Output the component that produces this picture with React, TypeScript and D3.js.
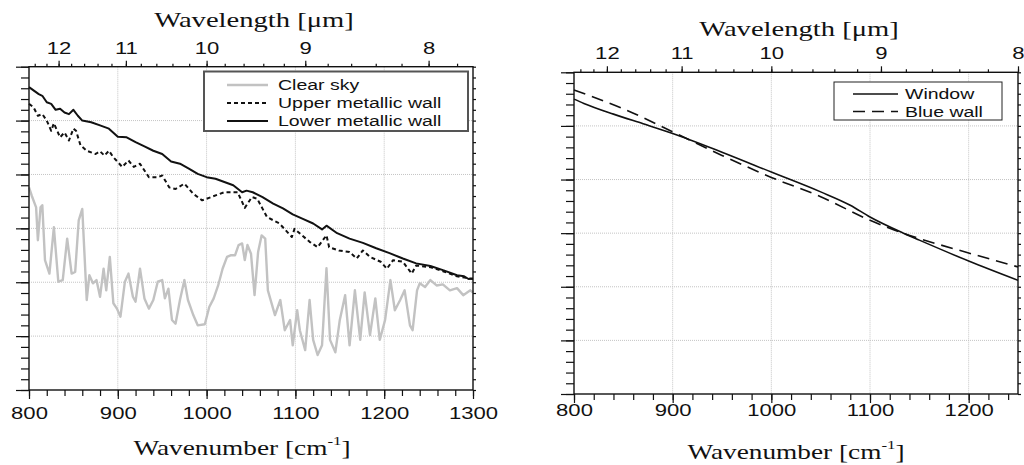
import * as d3 from 'd3';
import React, { useEffect, useRef } from 'react';

const width = 1024;
const height = 465;
const stretch = 1.3; // the original's text is drawn wider than normal
const sans = 'Liberation Sans';
const serif = 'Liberation Serif';

// wavenumber [cm-1], signal (arbitrary units, axis has no labels)
const clearSky = [
  [800, 37.6], [803, 36.1], [808, 33.9], [810, 27.8], [813, 33.9], [815, 34.3], [818, 24.1],
  [823, 21.6], [828, 30.2], [833, 20.1], [838, 20.4], [843, 28.1], [848, 21.6], [852, 21.9],
  [856, 31.5], [860, 33.6], [865, 16.7], [868, 21.3], [872, 19.8], [876, 20.4], [880, 17.3],
  [884, 22.5], [887, 18.5], [891, 24.7], [895, 16.1], [899, 15.1], [903, 13.6], [908, 20.1],
  [912, 21.6], [917, 17.3], [920, 16.4], [925, 22.5], [930, 17.0], [935, 15.1], [940, 16.7],
  [945, 20.1], [950, 20.4], [953, 17.0], [957, 18.8], [961, 13.0], [965, 12.3], [970, 16.7],
  [975, 20.4], [979, 16.7], [985, 13.9], [990, 12.0], [998, 12.2], [1003, 15.4], [1008, 17.0],
  [1013, 19.4], [1018, 22.5], [1023, 24.7], [1027, 25.0], [1032, 25.0], [1036, 26.9],
  [1040, 27.2], [1043, 24.1], [1046, 26.9], [1050, 25.3], [1054, 17.6], [1058, 25.6],
  [1062, 28.7], [1066, 28.1], [1069, 18.5], [1077, 13.9], [1083, 16.7], [1088, 11.1],
  [1094, 13.0], [1097, 8.3], [1102, 14.8], [1105, 11.1], [1111, 7.4], [1116, 16.7],
  [1120, 9.3], [1125, 6.5], [1130, 8.3], [1135, 22.6], [1139, 9.3], [1145, 7.0], [1150, 13.0],
  [1156, 17.6], [1161, 8.3], [1167, 18.5], [1173, 9.3], [1178, 18.1], [1184, 10.2],
  [1190, 17.0], [1195, 9.3], [1201, 13.0], [1207, 20.4], [1212, 14.8], [1218, 16.7],
  [1223, 18.5], [1229, 12.0], [1232, 11.1], [1237, 18.5], [1240, 19.8], [1246, 19.1],
  [1252, 20.4], [1259, 19.4], [1266, 19.6], [1274, 18.5], [1282, 18.9], [1289, 17.6],
  [1297, 18.5], [1300, 18.1],
];

const upperWall = [
  [800, 53.1], [805, 52.5], [810, 50.9], [815, 51.2], [820, 50.0], [825, 48.1], [828, 49.5],
  [835, 46.9], [840, 47.8], [845, 46.3], [850, 48.5], [853, 48.1], [858, 45.4], [865, 44.4],
  [875, 43.8], [880, 44.3], [885, 43.5], [890, 44.4], [895, 43.2], [905, 41.4], [912, 42.6],
  [918, 41.4], [925, 42.0], [935, 39.5], [945, 39.5], [950, 39.8], [958, 37.6], [965, 37.3],
  [975, 38.3], [985, 36.4], [995, 35.2], [1005, 35.8], [1020, 36.7], [1035, 36.7],
  [1043, 33.8], [1051, 35.8], [1057, 35.5], [1068, 32.1], [1082, 30.9], [1096, 28.4],
  [1099, 29.9], [1116, 27.5], [1125, 26.5], [1135, 28.7], [1138, 26.5], [1149, 25.9],
  [1161, 25.6], [1169, 24.4], [1176, 25.9], [1184, 24.7], [1196, 23.8], [1203, 22.5],
  [1210, 24.1], [1221, 23.8], [1231, 21.6], [1236, 23.1], [1252, 22.8], [1267, 22.0],
  [1282, 21.1], [1300, 20.6],
];

const lowerWall = [
  [800, 56.2], [811, 54.9], [815, 54.6], [820, 53.4], [825, 53.1], [830, 52.0], [835, 52.2],
  [840, 51.5], [845, 51.2], [850, 52.0], [855, 50.9], [860, 50.0], [870, 49.7], [880, 49.1],
  [890, 48.5], [900, 47.0], [910, 46.9], [920, 46.0], [930, 45.2], [940, 44.4], [950, 43.8],
  [960, 42.4], [970, 42.0], [980, 41.1], [990, 40.1], [1000, 39.5], [1010, 39.2],
  [1020, 38.6], [1030, 38.0], [1040, 36.7], [1045, 37.0], [1052, 36.7], [1063, 35.8],
  [1075, 34.6], [1086, 33.7], [1097, 32.6], [1109, 31.7], [1120, 30.9], [1130, 29.8],
  [1135, 30.5], [1147, 29.1], [1161, 28.1], [1176, 27.3], [1191, 26.3], [1206, 25.4],
  [1221, 24.4], [1236, 23.5], [1252, 23.0], [1267, 22.2], [1282, 21.3], [1290, 21.1],
  [1295, 20.6], [1300, 20.7],
];

const windowLine = [
  [800, 55.0], [810, 54.2], [840, 52.2], [870, 50.4], [900, 48.6], [950, 45.1], [1000, 41.4],
  [1050, 37.7], [1080, 35.2], [1100, 33.0], [1135, 29.9], [1150, 28.7], [1200, 24.8],
  [1250, 21.2],
];

const blueWall = [
  [800, 56.7], [850, 53.2], [900, 48.9], [950, 44.5], [1000, 40.4], [1050, 36.8],
  [1100, 32.4], [1135, 29.9], [1150, 29.0], [1200, 26.3], [1250, 23.7],
];

const waveTicks = [12, 11, 10, 9, 8];
const leftLegend = ['Clear sky', 'Upper metallic wall', 'Lower metallic wall'];
const rightLegend = ['Window', 'Blue wall'];

const Wide = ({ x, y, size, family, anchor = 'start', children }) => (
  <text
    transform={`translate(${x},${y}) scale(${stretch},1)`}
    fontFamily={family}
    fontSize={size}
    textAnchor={anchor}
    fill="#111"
  >
    {children}
  </text>
);

const Panel = (props) => {
  const { box, xMax, series, legend, labelPad, topTitle, bottomTitle, curve } = props;
  const axesRef = useRef(null);

  const xScale = d3.scaleLinear().domain([800, xMax]).range([box.left, box.right]);
  const yScale = d3.scaleLinear().domain([0, 60]).range([box.bottom, box.top]);
  const line = d3.line().x(d => xScale(d[0])).y(d => yScale(d[1])).curve(curve);

  const majorX = d3.range(800, xMax + 1, 100);
  const minorX = d3.range(800, xMax + 1, 20);
  const minorY = d3.range(0, 61, 2);
  const majorY = d3.range(0, 61, 10);
  const lo = 1e4 / xMax;
  const minorWave = d3.range(78, 126, 2).map(v => v / 10).filter(l => l >= lo - 1e-6 && l <= 12.5);

  useEffect(() => {
    const g = d3.select(axesRef.current);
    g.selectAll('*').remove();
    const noLabel = () => '';

    const put = (axis, tx, ty) => {
      const a = g.append('g').attr('transform', `translate(${tx},${ty})`).call(axis);
      a.select('.domain').remove();
      a.selectAll('line').attr('stroke', '#111').attr('stroke-width', 1.2);
      a.attr('font-family', sans).attr('font-size', 17);
      a.selectAll('text')
        .attr('fill', '#111')
        .attr('transform', `scale(${stretch},1)`);
      return a;
    };

    put(d3.axisBottom(xScale).tickValues(minorX).tickSize(6).tickFormat(noLabel), 0, box.bottom);
    put(
      d3.axisBottom(xScale).tickValues(majorX).tickFormat(d3.format('d'))
        .tickSize(9).tickPadding(labelPad.bottom),
      0, box.bottom,
    );

    put(d3.axisTop(xScale).tickValues(minorWave.map(l => 1e4 / l)).tickSize(3).tickFormat(noLabel), 0, box.top);
    put(
      d3.axisTop(xScale)
        .tickValues(waveTicks.map(l => 1e4 / l))
        .tickFormat(d => String(Math.round(1e4 / d)))
        .tickSize(6).tickPadding(7),
      0, box.top,
    );

    put(d3.axisLeft(yScale).tickValues(minorY).tickSize(8).tickFormat(noLabel), box.left, 0);
    put(d3.axisLeft(yScale).tickValues(majorY).tickSize(13).tickFormat(noLabel), box.left, 0);
    put(d3.axisRight(yScale).tickValues(minorY).tickSize(3).tickFormat(noLabel), box.right, 0);
  }, []);

  const legendH = legend.rowGap;
  return (
    <g>
      {majorX.filter(v => v > 800 && v < xMax).map(v => (
        <line key={'gx' + v} x1={xScale(v)} x2={xScale(v)} y1={box.top} y2={box.bottom}
          stroke="#c4c4c4" strokeDasharray="1,1" />
      ))}
      {majorY.filter(v => v > 0 && v < 60).map(v => (
        <line key={'gy' + v} x1={box.left} x2={box.right} y1={yScale(v)} y2={yScale(v)}
          stroke="#c4c4c4" strokeDasharray="1,1" />
      ))}

      {series.map(s => (
        <path key={s.name} d={line(s.data)} fill="none" stroke={s.color}
          strokeWidth={s.width} strokeDasharray={s.dash} strokeLinejoin="round" />
      ))}

      <rect x={legend.x} y={legend.y} width={legend.w} height={legend.h}
        fill="#fff" stroke={legend.border} strokeWidth={legend.borderWidth} />
      {series.map((s, i) => (
        <g key={'lg' + s.name}>
          <line x1={legend.lineX1} x2={legend.lineX2}
            y1={legend.firstRow + i * legendH} y2={legend.firstRow + i * legendH}
            stroke={s.color} strokeWidth={s.width} strokeDasharray={s.dash} />
          <Wide x={legend.textX} y={legend.firstRow + i * legendH + 5} size={legend.fontSize} family={sans}>
            {s.name}
          </Wide>
        </g>
      ))}

      <rect x={box.left} y={box.top} width={box.right - box.left} height={box.bottom - box.top}
        fill="none" stroke="#111" strokeWidth={1.4} />
      <g ref={axesRef} />

      <Wide x={topTitle.x} y={topTitle.y} size={22} family={serif} anchor="middle">
        Wavelength [μm]
      </Wide>
      <Wide x={bottomTitle.x} y={bottomTitle.y} size={21} family={serif} anchor="middle">
        Wavenumber [cm<tspan fontSize={13} dy={-10}>-1</tspan><tspan dy={10}>]</tspan>
      </Wide>
    </g>
  );
};

const App = () => {
  const leftSeries = [
    { name: leftLegend[0], data: clearSky, color: '#c2c2c2', width: 2.4, dash: null },
    { name: leftLegend[1], data: upperWall, color: '#111', width: 2, dash: '4,3' },
    { name: leftLegend[2], data: lowerWall, color: '#111', width: 2, dash: null },
  ];
  const rightSeries = [
    { name: rightLegend[0], data: windowLine, color: '#111', width: 1.6, dash: null },
    { name: rightLegend[1], data: blueWall, color: '#111', width: 1.6, dash: '12,7' },
  ];

  return (
    <svg width={width} height={height} style={{ position: 'absolute', left: 0, top: 0, background: '#fff' }}>
      <Panel
        box={{ left: 29, right: 473, top: 66.7, bottom: 390 }}
        xMax={1300}
        series={leftSeries}
        curve={d3.curveLinear}
        labelPad={{ bottom: 8 }}
        legend={{
          x: 204, y: 71.5, w: 264, h: 59.5, border: '#555', borderWidth: 2,
          lineX1: 227, lineX2: 268, textX: 278, firstRow: 85, rowGap: 18, fontSize: 15,
        }}
        topTitle={{ x: 254, y: 27 }}
        bottomTitle={{ x: 242, y: 455 }}
      />
      <Panel
        box={{ left: 574, right: 1018, top: 72.3, bottom: 394 }}
        xMax={1250}
        series={rightSeries}
        curve={d3.curveMonotoneX}
        labelPad={{ bottom: 1 }}
        legend={{
          x: 834, y: 82, w: 168, h: 38, border: '#222', borderWidth: 1,
          lineX1: 853, lineX2: 898, textX: 905, firstRow: 94, rowGap: 17.5, fontSize: 15,
        }}
        topTitle={{ x: 799, y: 36 }}
        bottomTitle={{ x: 796, y: 459 }}
      />
    </svg>
  );
};

export default App;
